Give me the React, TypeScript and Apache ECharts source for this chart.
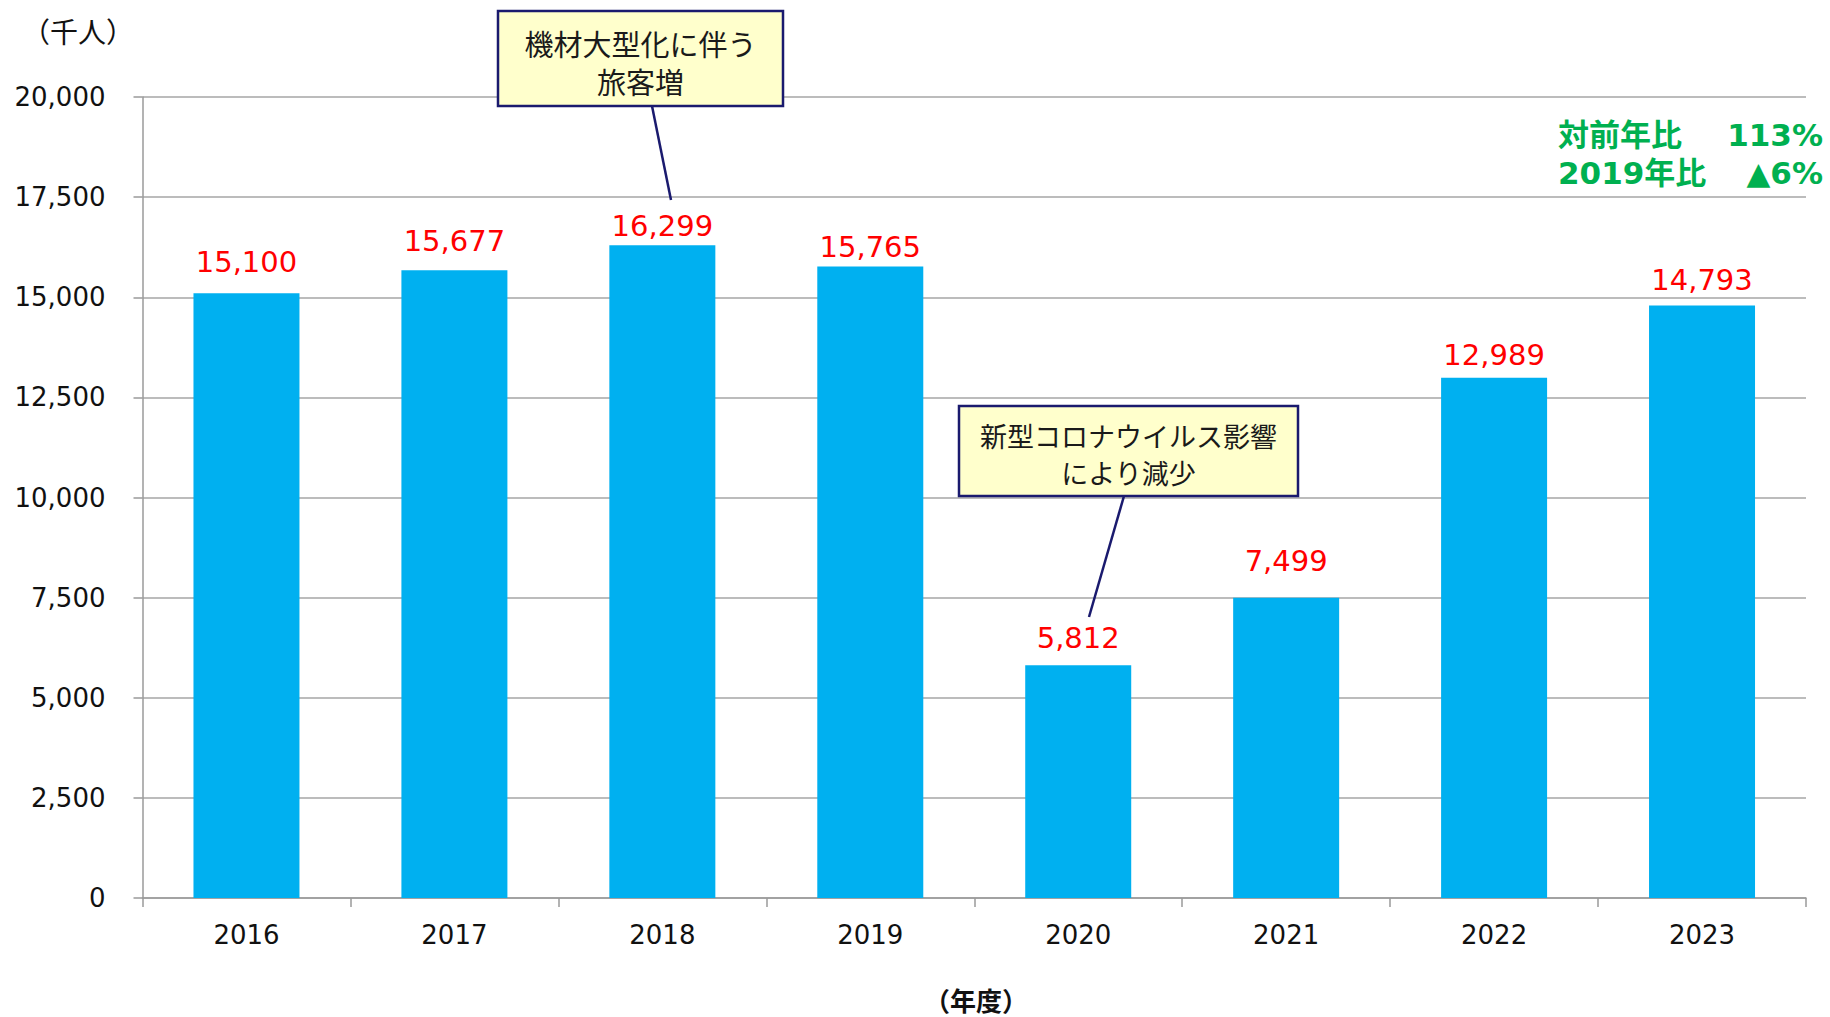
import React, { useEffect, useRef } from "react";
import * as echarts from "echarts";

const years = ["2016", "2017", "2018", "2019", "2020", "2021", "2022", "2023"];
const passengers = [15100, 15677, 16299, 15765, 5812, 7499, 12989, 14793];
const yTicks = { min: 0, max: 20000, interval: 2500 };
const unitLabel = "（千人）";
const xAxisTitle = "（年度）";
const note1Lines = ["機材大型化に伴う", "旅客増"];
const note2Lines = ["新型コロナウイルス影響", "により減少"];
const statLabels = ["対前年比", "2019年比"];
const statValues = ["113%", "▲6%"];
// per-bar gap between bar top and its value label (layout only)
const labelGap = [17, 15, 5, 5, 13, 22, 8, 11];

const FONT = "'DejaVu Sans', 'Noto Sans CJK JP', sans-serif";
const JFONT = "'Noto Sans CJK JP', 'DejaVu Sans', sans-serif";
const GREEN = "#00B050";
const NAVY = "#1A1A6E";

export default function App() {
  const ref = useRef<HTMLDivElement>(null);
  useEffect(() => {
    if (!ref.current) return;
    const chart = echarts.init(ref.current, null, { renderer: "svg" });
    const fmt = (v: number) => v.toLocaleString("en-US");
    const greenStyle = (text: string, align: string) => ({
      text,
      fontSize: 31,
      fontWeight: "bold",
      fontFamily: FONT,
      fill: GREEN,
      textAlign: align,
      textVerticalAlign: "middle",
    });
    const noteText = (text: string, x: number, y: number, size: number) => ({
      type: "text",
      z: 101,
      x,
      y,
      style: {
        text,
        fontSize: size,
        lineHeight: size,
        fontFamily: JFONT,
        fill: "#1a1a1a",
        textAlign: "center",
        textVerticalAlign: "middle",
      },
    });
    chart.setOption({
      animation: false,
      backgroundColor: "#ffffff",
      grid: { left: 142.5, right: 24, top: 97, bottom: 119, containLabel: false },
      xAxis: {
        type: "category",
        data: years,
        axisLine: { show: true, lineStyle: { color: "#9a9a9a", width: 1.5 } },
        axisTick: { show: true, length: 9, alignWithLabel: false, lineStyle: { color: "#9a9a9a", width: 1.5 } },
        axisLabel: { color: "#111", fontSize: 26, fontFamily: FONT, margin: 24 },
      },
      yAxis: {
        type: "value",
        min: yTicks.min,
        max: yTicks.max,
        interval: yTicks.interval,
        axisLine: { show: true, lineStyle: { color: "#9a9a9a", width: 1.5 } },
        axisTick: { show: true, length: 9, lineStyle: { color: "#9a9a9a", width: 1.5 } },
        splitLine: { show: true, lineStyle: { color: "#a6a6a6", width: 1.5 } },
        axisLabel: { color: "#111", fontSize: 26, fontFamily: FONT, margin: 37, formatter: fmt },
      },
      series: [
        {
          type: "bar",
          data: passengers.map((v, i) => ({ value: v, label: { distance: labelGap[i] } })),
          barWidth: 106,
          itemStyle: { color: "#00B0F0" },
          label: {
            show: true,
            position: "top",
            color: "#FF0000",
            fontSize: 29,
            fontFamily: FONT,
            formatter: (p: any) => fmt(p.value),
          },
        },
      ],
      graphic: [
        {
          type: "text",
          x: 22,
          y: 31,
          style: { text: unitLabel, fontSize: 28, fontFamily: JFONT, fill: "#111", textAlign: "left", textVerticalAlign: "middle" },
        },
        {
          type: "text",
          x: 976,
          y: 999,
          style: {
            text: xAxisTitle,
            fontSize: 26,
            lineHeight: 26,
            fontWeight: "bold",
            fontFamily: JFONT,
            fill: "#111",
            textAlign: "center",
            textVerticalAlign: "middle",
          },
        },
        { type: "text", x: 1558, y: 135, z: 100, style: greenStyle(statLabels[0], "left") },
        { type: "text", x: 1823, y: 135, z: 100, style: greenStyle(statValues[0], "right") },
        { type: "text", x: 1558, y: 173, z: 100, style: greenStyle(statLabels[1], "left") },
        { type: "text", x: 1823, y: 173, z: 100, style: greenStyle(statValues[1], "right") },
        // annotation 1
        {
          type: "line",
          z: 100,
          shape: { x1: 652, y1: 106, x2: 671, y2: 200 },
          style: { stroke: NAVY, lineWidth: 2.5 },
        },
        {
          type: "rect",
          z: 100,
          shape: { x: 498, y: 11, width: 285, height: 95 },
          style: { fill: "#FFFFCC", stroke: NAVY, lineWidth: 2.5 },
        },
        noteText(note1Lines[0], 640.5, 42.5, 29),
        noteText(note1Lines[1], 640.5, 80.5, 29),
        // annotation 2
        {
          type: "line",
          z: 100,
          shape: { x1: 1124, y1: 496, x2: 1089, y2: 617 },
          style: { stroke: NAVY, lineWidth: 2.5 },
        },
        {
          type: "rect",
          z: 100,
          shape: { x: 959, y: 406, width: 339, height: 90 },
          style: { fill: "#FFFFCC", stroke: NAVY, lineWidth: 2.5 },
        },
        noteText(note2Lines[0], 1128.5, 435, 27),
        noteText(note2Lines[1], 1128.5, 472, 27),
      ],
    });
    return () => chart.dispose();
  }, []);
  return (
    <div
      ref={ref}
      style={{ position: "fixed", left: 0, top: 0, width: 1830, height: 1017, background: "#fff" }}
    />
  );
}
